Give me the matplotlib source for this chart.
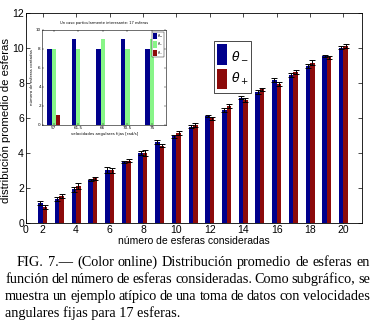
import numpy as np
import matplotlib
matplotlib.use("Agg")
import matplotlib.pyplot as plt

# main chart data
n_esferas = np.arange(2, 21)
theta_menos = [1.12, 1.37, 1.92, 2.46, 3.03, 3.49, 4.02, 4.61, 4.95, 5.50,
               6.11, 6.46, 7.16, 7.50, 8.17, 8.46, 8.97, 9.54, 10.02]
theta_mas = [0.90, 1.54, 2.11, 2.55, 3.00, 3.56, 4.00, 4.42, 5.16, 5.60,
             5.98, 6.69, 7.03, 7.64, 7.94, 8.65, 9.16, 9.47, 10.11]
err_menos = [0.12, 0.10, 0.15, 0.08, 0.15, 0.08, 0.12, 0.12, 0.10, 0.08,
             0.08, 0.10, 0.08, 0.10, 0.12, 0.10, 0.12, 0.08, 0.10]
err_mas = [0.12, 0.12, 0.15, 0.10, 0.12, 0.10, 0.15, 0.10, 0.12, 0.10,
           0.10, 0.12, 0.10, 0.10, 0.12, 0.12, 0.15, 0.08, 0.10]

# inset data (17 esferas)
vel_angular = [57, 61.5, 66, 70.5, 75]
ins_menos = [8, 9, 8, 9, 8]
ins_cero = [8, 8, 9, 8, 9]
ins_mas = [1, 0, 0, 0, 0]

azul = "#00008c"
rojo = "#8c0a0a"
verde = "#88f588"
sans = "Liberation Sans"

fig = plt.figure(figsize=(3.74, 3.26), dpi=100)

ax = fig.add_axes([0.0695, 0.316, 0.898, 0.644])
w = 0.27
ax.bar(n_esferas - w/2, theta_menos, width=w, color=azul, label=r"$\theta_-$", zorder=2)
ax.bar(n_esferas + w/2, theta_mas, width=w, color=rojo, label=r"$\theta_+$", zorder=2)
ax.errorbar(n_esferas - w/2, theta_menos, yerr=err_menos, fmt="none", ecolor="black",
            elinewidth=0.7, capsize=2.2, capthick=0.7, zorder=3)
ax.errorbar(n_esferas + w/2, theta_mas, yerr=err_mas, fmt="none", ecolor="black",
            elinewidth=0.7, capsize=2.2, capthick=0.7, zorder=3)
ax.set_xlim(1, 21.1)
ax.set_ylim(0, 12)
ax.set_xticks([1] + list(range(2, 21, 2)))
ax.set_xticklabels(["0"] + [str(i) for i in range(2, 21, 2)])
ax.set_yticks(range(0, 13, 2))
ax.tick_params(direction="in", top=True, right=True, length=3, width=0.5,
               labelsize=7.5, pad=1.5)
for lab in ax.get_xticklabels() + ax.get_yticklabels():
    lab.set_family(sans)
for s in ax.spines.values():
    s.set_linewidth(0.6)
ax.set_xlabel("número de esferas consideradas", fontsize=7.5, labelpad=1, family=sans)
ax.set_ylabel("distribución promedio de esferas", fontsize=8.2, family=sans)
ax.yaxis.set_label_coords(-0.046, 0.49)
leg = ax.legend(loc="upper left", bbox_to_anchor=(0.542, 0.895), fontsize=9,
                handlelength=0.75, handleheight=2.2, handletextpad=0.3,
                borderpad=0.25, labelspacing=0.25, fancybox=False,
                edgecolor="black", framealpha=1)
leg.get_frame().set_linewidth(0.5)

# inset
axi = fig.add_axes([0.113, 0.617, 0.331, 0.291])
wi = 0.8
x = np.array(vel_angular)
axi.bar(x - wi, ins_menos, width=wi, color=azul, label=r"$\theta_-$")
axi.bar(x, ins_cero, width=wi, color=verde, label=r"$\theta_0$")
axi.bar(x + wi, ins_mas, width=wi, color=rojo, label=r"$\theta_+$")
axi.set_xlim(54.9, 77.6)
axi.set_ylim(0, 10)
axi.set_xticks(vel_angular)
axi.set_xticklabels(["57", "61.5", "66", "70.5", "75"])
axi.set_yticks(range(0, 11, 2))
axi.tick_params(direction="in", top=True, right=True, length=1.5, width=0.3,
                labelsize=3, pad=1)
for s in axi.spines.values():
    s.set_linewidth(0.4)
axi.set_title("Un caso particularmente interesante: 17 esferas", fontsize=2.6, pad=4)
axi.set_xlabel("velocidades angulares fijas [rad/s]", fontsize=2.8, labelpad=1)
axi.set_ylabel("número de esferas contadas", fontsize=2.8, labelpad=1)
li = axi.legend(loc="upper right", bbox_to_anchor=(1.0, 1.0), fontsize=2.5,
                handlelength=1.0, handleheight=2.6,
                handletextpad=0.2, borderpad=0.2, labelspacing=0.3,
                fancybox=False, edgecolor="black", framealpha=1)
li.get_frame().set_linewidth(0.3)

# caption, justified
lineas = [
    "FIG. 7.— (Color online) Distribución promedio de esferas en",
    "función del número de esferas consideradas. Como subgráfico, se",
    "muestra un ejemplo atípico de una toma de datos con velocidades",
    "angulares fijas para 17 esferas.",
]
serif = "Liberation Serif"
fs = 10.3
ys = [266, 283, 300, 317]
renderer = fig.canvas.get_renderer()
for k, linea in enumerate(lineas):
    yy = 1 - ys[k] / 326
    x0 = (17 if k == 0 else 5) / 374
    x1 = 370 / 374
    if k == len(lineas) - 1:
        fig.text(x0, yy, linea, fontsize=fs, family=serif, va="baseline", ha="left")
        continue
    palabras = linea.split(" ")
    textos = [fig.text(0, yy, p, fontsize=fs, family=serif, va="baseline")
              for p in palabras]
    anchos = [t.get_window_extent(renderer).width / fig.bbox.width for t in textos]
    hueco = (x1 - x0 - sum(anchos)) / (len(palabras) - 1)
    xx = x0
    for t, a in zip(textos, anchos):
        t.set_x(xx)
        xx += a + hueco

fig.savefig("out.png", dpi=100)
